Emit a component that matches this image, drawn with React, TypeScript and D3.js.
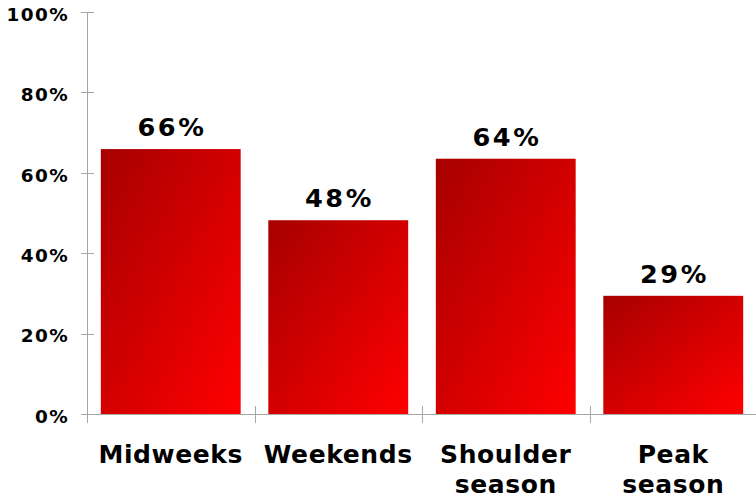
import React from "react";
import * as d3 from "d3";

const categories: string[][] = [["Midweeks"], ["Weekends"], ["Shoulder", "season"], ["Peak", "season"]];
const values: number[] = [65.9, 48.2, 63.5, 29.4];
const yTicks: number[] = [0, 20, 40, 60, 80, 100];

const W = 756;
const H = 498;
const FONT = "Verdana, 'DejaVu Sans', sans-serif";

export default function App() {
  const x = d3
    .scaleBand<number>()
    .domain(d3.range(categories.length))
    .range([87, 757])
    .paddingInner(0.165)
    .paddingOuter(0.0825);
  const xOuter = d3.scaleBand<number>().domain(d3.range(categories.length)).range([87, 757]);
  const y = d3.scaleLinear().domain([0, 100]).range([414, 12]);
  const axisColor = "#a6a6a6";

  return (
    <div style={{ position: "absolute", left: 0, top: 0 }}>
      <svg width={W} height={H} style={{ display: "block" }}>
        <defs>
          <linearGradient id="barGrad" x1="0" y1="0" x2="1" y2="1">
            <stop offset="0" stopColor="#a60000" />
            <stop offset="1" stopColor="#ff0000" />
          </linearGradient>
        </defs>
        {/* y axis */}
        <line x1={87.5} x2={87.5} y1={y(100)} y2={423} stroke={axisColor} strokeWidth={1} />
        {yTicks.map((t) => (
          <g key={t}>
            <line x1={81} x2={94} y1={Math.round(y(t)) + 0.5} y2={Math.round(y(t)) + 0.5} stroke={axisColor} />
            <text
              x={69}
              y={y(t) + 8.7}
              textAnchor="end"
              fontFamily={FONT}
              fontWeight="bold"
              fontSize={18.4}
              letterSpacing={1.4}
              fill="#000"
            >
              {t}%
            </text>
          </g>
        ))}
        {/* x axis */}
        <line x1={87} x2={757} y1={414.5} y2={414.5} stroke={axisColor} />
        {d3.range(categories.length + 1).map((i) => {
          const xx = i < categories.length ? (xOuter(i) as number) : 757;
          return (
            <line
              key={i}
              x1={Math.round(xx) + 0.5}
              x2={Math.round(xx) + 0.5}
              y1={406}
              y2={423}
              stroke={axisColor}
            />
          );
        })}
        {/* bars */}
        {values.map((v, i) => (
          <rect
            key={i}
            x={x(i)}
            y={y(v)}
            width={x.bandwidth()}
            height={y(0) - y(v)}
            fill="url(#barGrad)"
          />
        ))}
        {/* value labels */}
        {values.map((v, i) => (
          <text
            key={i}
            x={(x(i) as number) + x.bandwidth() / 2 + 1.2}
            y={y(v) - 13}
            textAnchor="middle"
            fontFamily={FONT}
            fontWeight="bold"
            fontSize={25.6}
            letterSpacing={2.5}
            fill="#000"
          >
            {Math.round(v)}%
          </text>
        ))}
        {/* category labels */}
        {categories.map((lines, i) => (
          <text
            key={i}
            x={(x(i) as number) + x.bandwidth() / 2}
            y={463}
            textAnchor="middle"
            fontFamily={FONT}
            fontWeight="bold"
            fontSize={25}
            letterSpacing={0.6}
            fill="#000"
          >
            {lines.map((l, j) => (
              <tspan key={j} x={(x(i) as number) + x.bandwidth() / 2} dy={j === 0 ? 0 : 30}>
                {l}
              </tspan>
            ))}
          </text>
        ))}
      </svg>
    </div>
  );
}
